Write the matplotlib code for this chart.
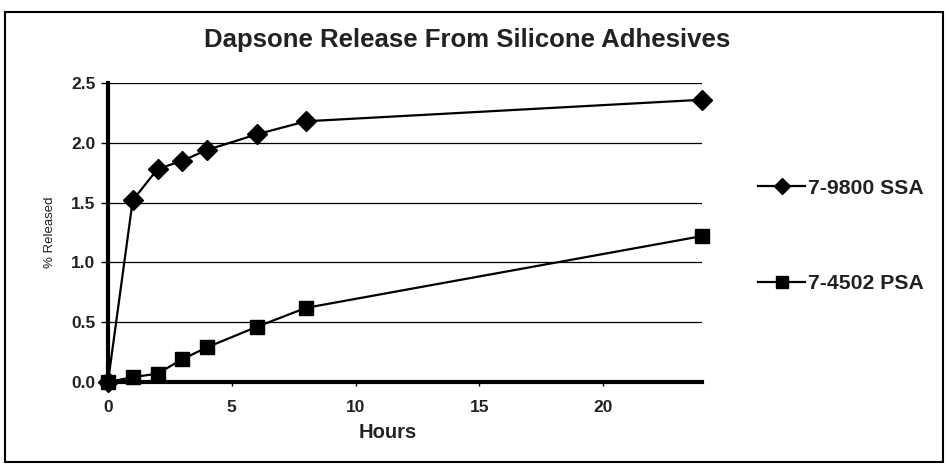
import matplotlib
matplotlib.use("Agg")
import matplotlib.pyplot as plt
from matplotlib.patches import Rectangle
from matplotlib.lines import Line2D

hours = [0, 1, 2, 3, 4, 6, 8, 24]
ssa = [0.0, 1.52, 1.78, 1.85, 1.94, 2.07, 2.18, 2.36]
psa = [0.0, 0.04, 0.07, 0.19, 0.29, 0.46, 0.62, 1.22]
series_names = ["7-9800 SSA", "7-4502 PSA"]
title = "Dapsone Release From Silicone Adhesives"
yticks = [0.0, 0.5, 1.0, 1.5, 2.0, 2.5]
xticks = [0, 5, 10, 15, 20]

plt.rcParams['font.family'] = ['Liberation Sans', 'DejaVu Sans']

W, H = 949, 468
fig = plt.figure(figsize=(W / 100, H / 100), dpi=100)
fig.patch.set_facecolor('white')

# outer border
fig.add_artist(Rectangle((5 / W, 1 - 462 / H), (943 - 5) / W, (462 - 12) / H,
                         transform=fig.transFigure, fill=False,
                         edgecolor='black', linewidth=1.5))

ax = fig.add_axes([108 / W, 1 - 382 / H, (702 - 108) / W, (382 - 83) / H])
ax.set_xlim(0, 24)
ax.set_ylim(0, 2.5)

for yv in yticks[1:]:
    ax.axhline(yv, color='black', linewidth=0.9, zorder=1)

ax.plot(hours, ssa, color='black', linewidth=1.6, marker='D', markersize=10,
        markerfacecolor='black', markeredgecolor='black', zorder=3, clip_on=False)
ax.plot(hours, psa, color='black', linewidth=1.6, marker='s', markersize=9.5,
        markerfacecolor='black', markeredgecolor='black', zorder=3, clip_on=False)

for s in ['top', 'right']:
    ax.spines[s].set_visible(False)
ax.spines['left'].set_linewidth(3)
ax.spines['bottom'].set_linewidth(3)

ax.set_yticks(yticks)
ax.set_yticklabels([f"{v:.1f}" for v in yticks])
ax.set_xticks(xticks)
ax.set_xticklabels([str(v) for v in xticks])
ax.tick_params(axis='y', direction='out', length=5, width=1, pad=4, labelsize=12.5)
ax.tick_params(axis='x', direction='out', length=3, width=1, pad=10, labelsize=12.5)
for lab in ax.get_xticklabels() + ax.get_yticklabels():
    lab.set_fontweight('bold')
    lab.set_color('#222222')

fig.text(467 / W, 1 - 40 / H, title, ha='center', va='center',
         fontsize=18.5, fontweight='bold', color='#222222')
fig.text(388 / W, 1 - 432 / H, "Hours", ha='center', va='center',
         fontsize=14.5, fontweight='bold', color='#222222')
fig.text(50 / W, 1 - 232 / H, "% Released", ha='center', va='center',
         rotation=90, fontsize=9.5, color='#222222')

# legend
handles = [
    Line2D([0], [0], color='black', linewidth=1.6, marker='D', markersize=8,
           markerfacecolor='black'),
    Line2D([0], [0], color='black', linewidth=1.6, marker='s', markersize=8.5,
           markerfacecolor='black'),
]
leg = fig.legend(handles, series_names, loc='center left',
                 bbox_to_anchor=(739 / W, 1 - 236 / H), frameon=False,
                 prop={'weight': 'bold', 'size': 15.3}, labelspacing=3.6,
                 handlelength=2.2, handletextpad=0.15, borderpad=0.4)
for t in leg.get_texts():
    t.set_color('#222222')

fig.savefig("out.png", dpi=100)
